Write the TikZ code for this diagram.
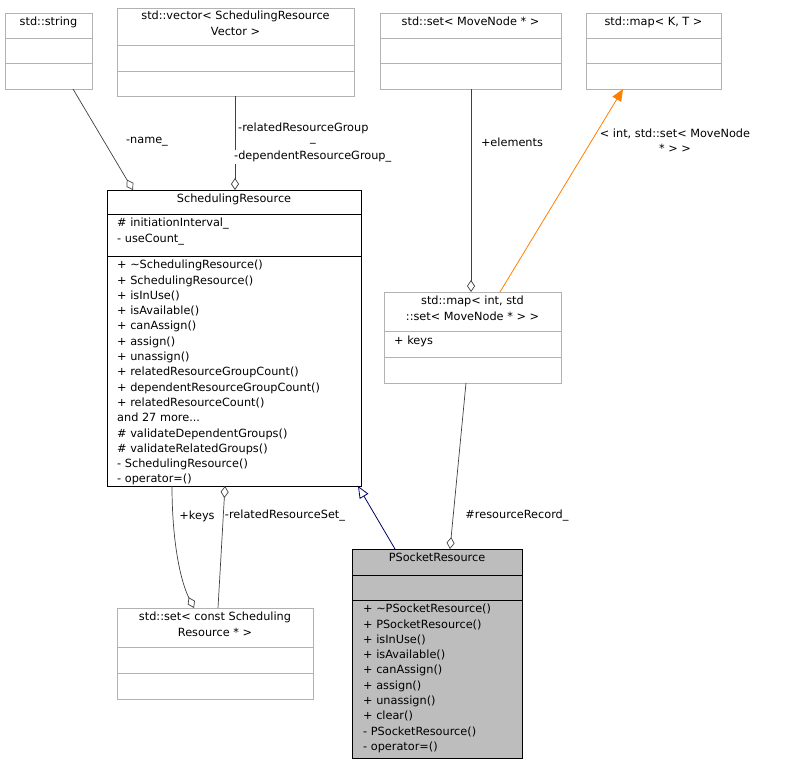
\documentclass[tikz,border=0pt]{standalone}
\usepackage{fontspec}
\setmainfont{DejaVu Sans}
\usetikzlibrary{arrows.meta,calc}
\begin{document}
\begin{tikzpicture}[x=1pt,y=-1pt,
  font=\fontsize{11.3}{15.3}\selectfont,
  gbox/.style={draw=black!30,line width=0.8pt,fill=white,anchor=north west,inner sep=0,outer sep=0},
  bbox/.style={draw=black,line width=0.8pt,fill=white,anchor=north west,inner sep=0,outer sep=0},
  txt/.style={inner sep=0,align=center,anchor=north},
  ltxt/.style={inner sep=0,align=left,anchor=north west},
  lbl/.style={inner sep=1pt,align=center,fill=white},
  agg/.style={draw=black!75,line width=0.7pt,{Diamond[open,length=12pt,width=8pt,fill=white]}-},
  inh/.style={line width=0.8pt,{Triangle[open,length=12pt,width=10pt,fill=white]}-},
  inho/.style={line width=0.8pt,draw=orange,{Triangle[length=12pt,width=10pt,fill=orange]}-}]
\useasboundingbox (0,0) rectangle (787,764);
% std::string
\node[gbox,minimum width=87,minimum height=76] (str) at (5,13) {};
\node[txt] at (48.5,17) {std::string};
\draw[black!30,line width=0.8pt] (5,38)--(92,38) (5,63)--(92,63);
% vector
\node[gbox,minimum width=237,minimum height=88] (vec) at (117,8) {};
\node[txt] at (235.5,11) {std::vector< SchedulingResource\\Vector >};
\draw[black!30,line width=0.8pt] (117,45)--(354,45) (117,71)--(354,71);
% set movenode
\node[gbox,minimum width=181,minimum height=76] (smn) at (380,13) {};
\node[txt] at (470.5,17) {std::set< MoveNode * >};
\draw[black!30,line width=0.8pt] (380,38)--(561,38) (380,63)--(561,63);
% map K T
\node[gbox,minimum width=135,minimum height=76] (mkt) at (586,13) {};
\node[txt] at (653.5,17) {std::map< K, T >};
\draw[black!30,line width=0.8pt] (586,38)--(721,38) (586,63)--(721,63);
% SchedulingResource
\node[bbox,minimum width=254,minimum height=296] (sr) at (107,190) {};
\node[txt] at (234,194) {SchedulingResource};
\draw[line width=0.8pt] (107,214)--(361,214) (107,256)--(361,256);
\node[ltxt] at (117,218) {\# initiationInterval\_\\- useCount\_};
\node[ltxt] at (117,260) {+ \textasciitilde SchedulingResource()\\+ SchedulingResource()\\+ isInUse()\\+ isAvailable()\\+ canAssign()\\+ assign()\\+ unassign()\\+ relatedResourceGroupCount()\\+ dependentResourceGroupCount()\\+ relatedResourceCount()\\and 27 more...\\\# validateDependentGroups()\\\# validateRelatedGroups()\\- SchedulingResource()\\- operator=()};
% map int set
\node[gbox,minimum width=177,minimum height=91] (mis) at (384,292) {};
\node[txt] at (472.5,296) {std::map< int, std\\::set< MoveNode * > >};
\draw[black!30,line width=0.8pt] (384,331)--(561,331) (384,357)--(561,357);
\node[ltxt] at (394,336) {+ keys};
% PSocketResource
\node[bbox,fill=black!26!white,minimum width=170,minimum height=209] (ps) at (352,549) {};
\node[txt] at (437,553) {PSocketResource};
\draw[line width=0.8pt] (352,575)--(522,575) (352,600)--(522,600);
\node[ltxt] at (363,604) {+ \textasciitilde PSocketResource()\\+ PSocketResource()\\+ isInUse()\\+ isAvailable()\\+ canAssign()\\+ assign()\\+ unassign()\\+ clear()\\- PSocketResource()\\- operator=()};
% set const SR
\node[gbox,minimum width=196,minimum height=91] (scs) at (117,608) {};
\node[txt] at (215,612) {std::set< const Scheduling\\Resource * >};
\draw[black!30,line width=0.8pt] (117,647)--(313,647) (117,673)--(313,673);
% edges
\draw[agg] ([xshift=26]sr.north west) -- ([xshift=68]str.south west);
\node[lbl] at (147,142) {-name\_};
\draw[agg] ([xshift=128]sr.north west) -- ([xshift=-0.5]vec.south);
\node[lbl,anchor=west] at (237,128) {-relatedResourceGroup};
\node[inner sep=0] at (313,143) {\_};
\node[lbl,anchor=west] at (233,157) {-dependentResourceGroup\_};
\draw[agg] ([xshift=-1.5]mis.north) -- ([xshift=0.5]smn.south);
\node[lbl] at (512,142) {+elements};
\draw[inho] ([xshift=37]mkt.south west) -- ([xshift=116]mis.north west);
\node[inner sep=0,align=center] at (675,141) {< int, std::set< MoveNode\\ * > >};
\draw[agg] ([xshift=98]ps.north west) -- ([xshift=82]mis.south west);
\node[lbl] at (517,516) {\#resourceRecord\_};
\draw[inh,draw=blue!40!black] ([xshift=251]sr.south west) -- ([xshift=43]ps.north west);
\draw[agg] ([xshift=77]scs.north west) .. controls (180,580) and (172,540) .. ([xshift=65]sr.south west);
\node[lbl] at (197,516) {+keys};
\draw[agg] ([xshift=118]sr.south west) -- ([xshift=101]scs.north west);
\node[lbl] at (285,516) {-relatedResourceSet\_};
\end{tikzpicture}
\end{document}
